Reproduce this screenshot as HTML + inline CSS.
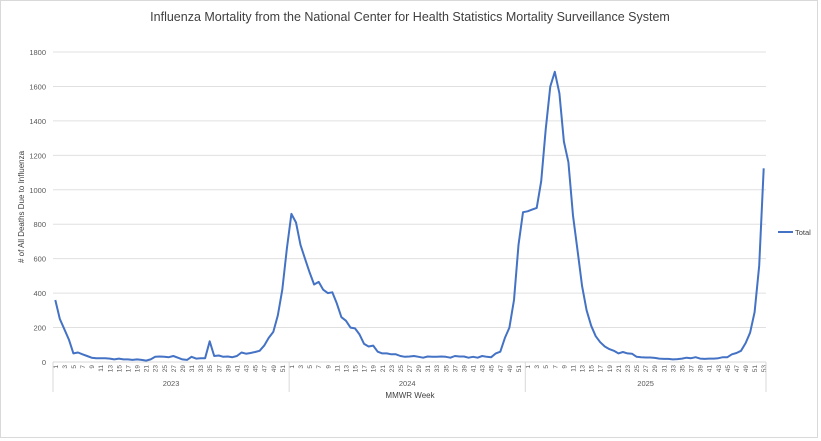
<!DOCTYPE html>
<html><head><meta charset="utf-8"><style>
html,body{margin:0;padding:0;background:#fff}
svg{display:block;font-family:"Liberation Sans",sans-serif}
</style></head><body>
<svg id="c" width="821" height="441" xmlns="http://www.w3.org/2000/svg">
<rect x="0.5" y="0.5" width="817" height="437" fill="#fff" stroke="#d9d9d9"/>
<text x="410" y="21" font-size="12.5" fill="#404040" text-anchor="middle">Influenza Mortality from the National Center for Health Statistics Mortality Surveillance System</text>
<text transform="translate(24,207) rotate(-90)" font-size="8" fill="#404040" text-anchor="middle"># of All Deaths Due to Influenza</text>
<text x="410" y="398" font-size="8" fill="#404040" text-anchor="middle">MMWR Week</text>
<g id="g"></g>
<line x1="778" y1="232" x2="793" y2="232" stroke="#4472c4" stroke-width="2"/>
<text x="795" y="235" font-size="7.5" fill="#404040">Total</text>
</svg>
<script>
var d=[360,250,190,130,50,55,45,35,25,22,22,22,20,15,20,15,15,12,15,12,8,15,30,32,30,28,35,25,15,12,30,20,22,22,120,35,38,30,32,28,35,55,48,52,58,65,95,140,175,270,420,660,
860,810,680,600,520,450,465,420,400,405,340,260,240,200,195,160,105,90,95,60,50,50,45,45,35,30,32,35,30,25,32,30,30,32,30,25,35,32,32,25,30,25,35,30,28,50,60,140,200,360,680,870,
875,885,895,1050,1350,1600,1685,1560,1280,1160,850,650,440,300,210,150,115,90,75,65,50,58,50,48,30,28,26,26,24,20,18,18,15,17,20,25,22,28,20,18,20,20,22,28,28,45,52,65,110,170,290,560,1125];
var s='',x0=53,x1=766,w=(x1-x0)/157;
function Y(v){return 362-v*0.17222;}
for(var v=0;v<=1800;v+=200){var y=Y(v);
 if(v>0)s+='<line x1="'+x0+'" y1="'+y+'" x2="'+x1+'" y2="'+y+'" stroke="#e0e0e0" stroke-width="1"/>';
 s+='<text x="46" y="'+(y+3)+'" font-size="7.5" fill="#595959" text-anchor="end">'+v+'</text>';}
s+='<line x1="'+x0+'" y1="362" x2="'+x1+'" y2="362" stroke="#d9d9d9"/>';
var yrs=[[2023,52],[2024,52],[2025,53]],i=0;
var bx=[x0];
yrs.forEach(function(yr){var start=i;
 for(var k=1;k<=yr[1];k++,i++){if(k%2==1){var cx=x0+w*(i+0.5);
  s+='<text transform="translate('+(cx+2.5)+',365) rotate(-90)" font-size="6.5" fill="#595959" text-anchor="end">'+k+'</text>';}}
 var bx2=x0+w*i;
 s+='<text x="'+((x0+w*start+bx2)/2)+'" y="386" font-size="7.5" fill="#595959" text-anchor="middle">'+yr[0]+'</text>';
 bx.push(bx2);});
bx.forEach(function(b){s+='<line x1="'+b+'" y1="362" x2="'+b+'" y2="392" stroke="#d9d9d9"/>';});
var p=d.map(function(v,j){return (x0+w*(j+0.5)).toFixed(1)+','+Y(v).toFixed(1);}).join(' ');
s+='<polyline points="'+p+'" fill="none" stroke="#4472c4" stroke-width="2" stroke-linejoin="round"/>';
document.getElementById('g').innerHTML=s;
</script>
</body></html>
